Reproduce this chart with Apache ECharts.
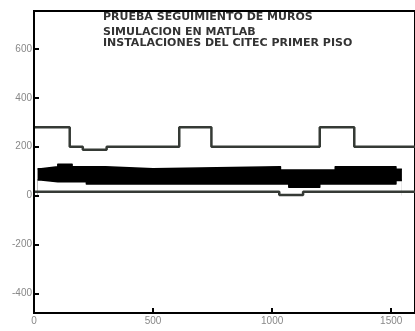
<!DOCTYPE html>
<html>
<head>
<meta charset="utf-8">
<script src="https://cdn.jsdelivr.net/npm/echarts@6/dist/echarts.min.js"></script>
<style>html,body{margin:0;padding:0;background:#fff;}#c{width:415px;height:331px;}</style>
</head>
<body>
<div id="c"></div>
<script>
// Title lines
var titleLines = ['PRUEBA SEGUIMIENTO DE MUROS', 'SIMULACION EN MATLAB', 'INSTALACIONES DEL CITEC PRIMER PISO'];
// Tick labels
var xTicks = [0, 500, 1000, 1500];
var yTicks = [-400, -200, 0, 200, 400, 600];
// Upper step signal (x, value) - value holds from x onward
var upperX = [0, 150, 205, 305, 610, 745, 1200, 1345, 1600];
var upperY = [280, 200, 188, 200, 280, 200, 280, 200, 200];
// Lower step signal
var lowerX = [0, 1030, 1130, 1600];
var lowerY = [16, 3, 16, 16];
// Dense measured band: envelope (value holds from x onward)
var bandX = [15, 30, 100, 160, 220, 300, 500, 1035, 1070, 1200, 1265, 1520, 1545];
var bandTop = [110, 118, 128, 118, 118, 110, 118, 105, 105, 105, 118, 108, 108];
var bandBottom = [64, 57, 57, 57, 48, 48, 48, 48, 34, 48, 48, 62, 62];

// build explicit step-after points (value holds until next x)
function steps(xs, ys) {
  var out = [];
  for (var i = 0; i < xs.length; i++) {
    if (i > 0) out.push([xs[i], ys[i - 1]]);
    out.push([xs[i], ys[i]]);
  }
  return out;
}

var labelStyle = { color: '#888', fontSize: 10, fontFamily: 'Liberation Sans, Arial, sans-serif',
  formatter: function (v) { return String(v); } };
var chart = echarts.init(document.getElementById('c'), null, { renderer: 'canvas' });
chart.setOption({
  animation: false,
  backgroundColor: '#fff',
  title: titleLines.map(function (t, i) {
    return {
      text: t, left: 103, top: [12, 26.5, 38][i], padding: 0,
      textStyle: { fontSize: 11, fontWeight: 'bold', color: '#333', fontFamily: 'DejaVu Sans, sans-serif' }
    };
  }),
  grid: { left: 34, right: -9, top: 11, bottom: 18, show: true, borderColor: '#000', borderWidth: 2, containLabel: false },
  xAxis: {
    type: 'value', min: 0, max: 1600, z: 10,
    axisLine: { show: true, onZero: false, lineStyle: { color: '#000', width: 2 } },
    axisTick: { show: true, inside: true, length: 5, customValues: xTicks, lineStyle: { color: '#000', width: 2 } },
    axisLabel: Object.assign({ margin: 3, customValues: xTicks }, labelStyle),
    splitLine: { show: false }
  },
  yAxis: {
    type: 'value', min: -480, max: 755, z: 10,
    axisLine: { show: true, onZero: false, lineStyle: { color: '#000', width: 2 } },
    axisTick: { show: true, inside: true, length: 5, customValues: yTicks, lineStyle: { color: '#000', width: 2 } },
    axisLabel: Object.assign({ margin: 2, customValues: yTicks }, labelStyle),
    splitLine: { show: false }
  },
  series: [
    {
      // upper envelope of the dense band, filled black down to zero
      type: 'line', symbol: 'none',
      data: steps(bandX, bandTop),
      lineStyle: { color: '#000', width: 1.5, join: 'round' },
      areaStyle: { color: '#000', opacity: 1 }
    },
    {
      // lower envelope of the dense band, cleared below
      type: 'line', symbol: 'none',
      data: steps(bandX, bandBottom),
      lineStyle: { color: '#000', width: 1.5, join: 'round' },
      areaStyle: { color: '#fff', opacity: 1, origin: 'start' }
    },
    {
      type: 'line', symbol: 'none',
      data: steps(upperX, upperY),
      lineStyle: { color: '#353a35', width: 2.5 }
    },
    {
      type: 'line', symbol: 'none',
      data: steps(lowerX, lowerY),
      lineStyle: { color: '#353a35', width: 2.5 }
    }
  ]
});
</script>
</body>
</html>
